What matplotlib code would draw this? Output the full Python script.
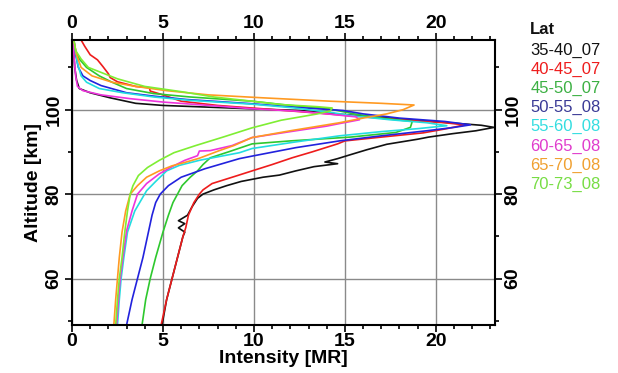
import matplotlib
matplotlib.use("Agg")
import matplotlib.pyplot as plt
from matplotlib.ticker import MultipleLocator

plt.rcParams['font.family'] = ['Liberation Sans', 'DejaVu Sans']

# perfiles: altitud [km] e intensidad [MR]
labels = ['35-40_07', '40-45_07', '45-50_07', '50-55_08',
          '55-60_08', '60-65_08', '65-70_08', '70-73_08']
line_colors = ['#111111', '#ee1c1c', '#2ec82e', '#2222dd',
               '#22dde0', '#ee33dd', '#ff9a22', '#7fee33']
text_colors = ['#111111', '#ee1c1c', '#3cb043', '#3a3a96',
               '#33dde0', '#e03ccc', '#f0a030', '#77dd44']

alt_35 = [49, 55, 60, 65, 70, 71, 72, 73, 73.7, 75, 77, 79, 80, 81, 82, 83, 84, 84.5,
          85.5, 86.5, 87.2, 87.6, 88.4, 89.2, 90.5, 91.8, 93, 93.5, 94.3, 95, 95.8,
          96.3, 96.8, 97.5, 98.3, 99, 99.8, 100.2, 101, 101.5, 102.8, 104, 105, 107,
          110, 116.5]
int_35 = [4.95, 5.2, 5.5, 5.8, 6.1, 6.2, 5.85, 6.2, 5.85, 6.35, 6.6, 6.9, 7.2, 7.8, 8.5,
          9.3, 10.5, 11.4, 12.3, 13.3, 14.6, 13.9, 14.6, 15.2, 16.2, 17.3, 19.0, 19.6,
          20.9, 22.2, 23.2, 22.5, 21.0, 19.0, 16.5, 14.5, 12.5, 9.9, 5.0, 3.5, 2.1,
          1.0, 0.4, 0.25, 0.15, 0.05]

alt_40 = [49, 55, 60, 65, 70, 72, 75, 78, 80, 81, 82.5, 84.4, 85.5, 87, 88.6, 90,
          91.9, 92.6, 93.5, 94.5, 95.5, 96.4, 96.9, 97.5, 98.3, 99.2, 100.2, 101, 102,
          103.5, 104.4, 105.2, 105.5, 106.6, 107.6, 108.5, 110.2, 111.8, 113, 115,
          116.5]
int_40 = [4.9, 5.2, 5.5, 5.8, 6.1, 6.25, 6.4, 6.7, 7.0, 7.2, 7.7, 9.1, 9.9, 11.0, 12.1,
          13.2, 14.6, 15.0, 17.0, 19.3, 20.6, 21.6, 20.5, 18.5, 16.0, 13.5, 10.5, 8.0,
          6.0, 5.0, 4.3, 4.25, 3.5, 2.5, 2.1, 2.0, 1.7, 1.4, 1.0, 0.7, 0.5]

alt_45 = [49, 55, 60, 65, 71, 75, 78, 80, 82, 84, 85.5, 87, 88.6, 90, 91.9, 92.6, 93.5,
          94.6, 95.8, 97.2, 98, 99, 100.3, 101, 102, 103, 103.8, 105, 106.5, 108, 110,
          112, 114, 116.5]
int_45 = [3.85, 4.05, 4.3, 4.6, 5.0, 5.3, 5.55, 5.8, 6.05, 6.5, 6.9, 7.2, 7.6, 8.6, 9.9,
          12.0, 15.3, 17.8, 18.6, 18.7, 17.0, 15.5, 14.0, 12.0, 9.9, 6.5, 4.5, 3.0, 2.2,
          1.5, 0.8, 0.4, 0.2, 0.1]

alt_50 = [49, 55, 60, 65, 71, 75, 78, 80, 82, 84, 86, 88.4, 89, 91, 92.6, 93.8, 95,
          95.8, 96.4, 97.2, 98, 99, 99.8, 100.5, 101.4, 102.4, 103.2, 104, 105.7, 106.9,
          108, 110, 113, 116.5]
int_50 = [3.0, 3.3, 3.6, 3.9, 4.2, 4.4, 4.6, 4.85, 5.3, 6.0, 7.3, 9.2, 9.9, 12.3, 14.7,
          17.0, 19.5, 21.0, 21.9, 20.5, 18.0, 16.0, 14.9, 12.5, 9.9, 6.3, 4.5, 3.0, 1.6,
          1.0, 0.6, 0.35, 0.2, 0.1]

alt_55 = [49, 55, 60, 65, 71, 76, 80.8, 83, 85.5, 86.8, 88, 89.8, 90.8, 92.3, 93.8,
          94.8, 95.5, 96.2, 96.9, 97.6, 98.5, 99.5, 100.5, 101.3, 102.2, 103, 104, 105,
          106.5, 108, 111, 116.5]
int_55 = [2.5, 2.6, 2.7, 2.85, 3.05, 3.45, 4.1, 4.6, 5.2, 5.9, 7.0, 9.2, 9.9, 12.2,
          14.7, 17.0, 19.0, 20.6, 19.5, 17.5, 15.5, 14.0, 12.0, 9.9, 6.5, 4.5, 2.8, 1.5,
          0.8, 0.5, 0.3, 0.1]

alt_60 = [49, 55, 60, 65, 71.3, 76, 80, 82.5, 84.8, 86.5, 88, 89.1, 90.2, 90.3, 91.5,
          93.4, 94.8, 96.1, 96.7, 97.6, 98.3, 99, 99.6, 100.2, 101, 101.8, 102.6, 103.5,
          104.5, 105.5, 108, 112, 116.5]
int_60 = [2.45, 2.55, 2.65, 2.8, 3.0, 3.3, 3.6, 4.1, 4.8, 5.5, 6.2, 6.9, 7.0, 7.6, 8.8,
          9.9, 12.0, 14.0, 14.7, 15.8, 15.6, 14.0, 12.5, 10.0, 7.5, 5.0, 3.2, 1.6, 0.6,
          0.3, 0.2, 0.12, 0.05]

alt_65 = [49, 55, 60, 65, 71, 76, 80, 82, 84, 85.5, 86.7, 87.5, 88.5, 90.3, 91.5, 93.4,
          95, 96.9, 98, 99, 100, 101.1, 101.5, 102, 102.8, 103.5, 104.5, 105.5, 106.5,
          108, 110, 113, 116.5]
int_65 = [2.3, 2.4, 2.5, 2.6, 2.75, 2.95, 3.2, 3.6, 4.1, 4.8, 5.5, 6.2, 7.0, 8.1, 8.9,
          9.9, 12.0, 14.7, 16.0, 17.3, 18.2, 18.8, 17.0, 14.2, 10.5, 7.5, 5.2, 3.5, 2.2,
          1.1, 0.5, 0.25, 0.1]

alt_70 = [49, 55, 60, 65, 71, 76, 80, 82, 84.4, 86.3, 88, 89.8, 91.5, 93.5, 95.7, 97.5,
          99, 99.7, 100.4, 100.7, 101.2, 102, 103, 104.2, 105.5, 107.3, 110, 112, 114,
          116.5]
int_70 = [2.4, 2.5, 2.6, 2.75, 2.9, 3.05, 3.2, 3.35, 3.65, 4.15, 4.8, 5.6, 6.8, 8.3, 9.9,
          11.5, 13.5, 14.2, 14.3, 13.5, 11.5, 9.9, 7.8, 6.1, 4.0, 2.5, 0.9, 0.5, 0.2,
          0.1]

altitudes = [alt_35, alt_40, alt_45, alt_50, alt_55, alt_60, alt_65, alt_70]
intensities = [int_35, int_40, int_45, int_50, int_55, int_60, int_65, int_70]

fig = plt.figure(figsize=(6.18, 3.73), dpi=100)
ax = fig.add_axes([0.1165, 0.1287, 0.6845, 0.7641])

for alt, inten, c in zip(altitudes, intensities, line_colors):
    ax.plot(inten, alt, color=c, lw=1.2)

ax.set_xlim(0, 23.25)
ax.set_ylim(49, 116.5)

ax.xaxis.set_major_locator(MultipleLocator(5))
ax.xaxis.set_minor_locator(MultipleLocator(1))
ax.yaxis.set_major_locator(MultipleLocator(20))
ax.yaxis.set_minor_locator(MultipleLocator(10))

ax.grid(True, which='major', color='#8a8a8a', lw=1.0)
for s in ax.spines.values():
    s.set_linewidth(1.5)

ax.tick_params(axis='both', which='both', top=True, right=True,
               labeltop=True, labelright=True, width=1.2, labelsize=14)
ax.tick_params(axis='both', which='major', length=5)
ax.tick_params(axis='both', which='minor', length=3)
ax.tick_params(axis='both', which='both', direction='out')
for t in ax.get_xticklabels() + ax.get_yticklabels():
    t.set_fontweight('bold')
for t in ax.get_yticklabels():
    t.set_rotation(90)
    t.set_va('center')
ax.tick_params(axis='y', pad=2)
ax.tick_params(axis='x', pad=1)

ax.set_xlabel('Intensity [MR]', fontsize=14, fontweight='bold', labelpad=0)
ax.set_ylabel('Altitude [km]', fontsize=14, fontweight='bold', labelpad=2)

# leyenda como texto coloreado
fig.text(0.858, 1 - 30 / 373, 'Lat', fontsize=12, fontweight='bold',
         color='#111111', va='center')
for i, (lab, c) in enumerate(zip(labels, text_colors)):
    fig.text(0.858, 1 - (50 + i * 19.2) / 373, lab, fontsize=12,
             color=c, va='center')

fig.savefig('out.png', dpi=100)
